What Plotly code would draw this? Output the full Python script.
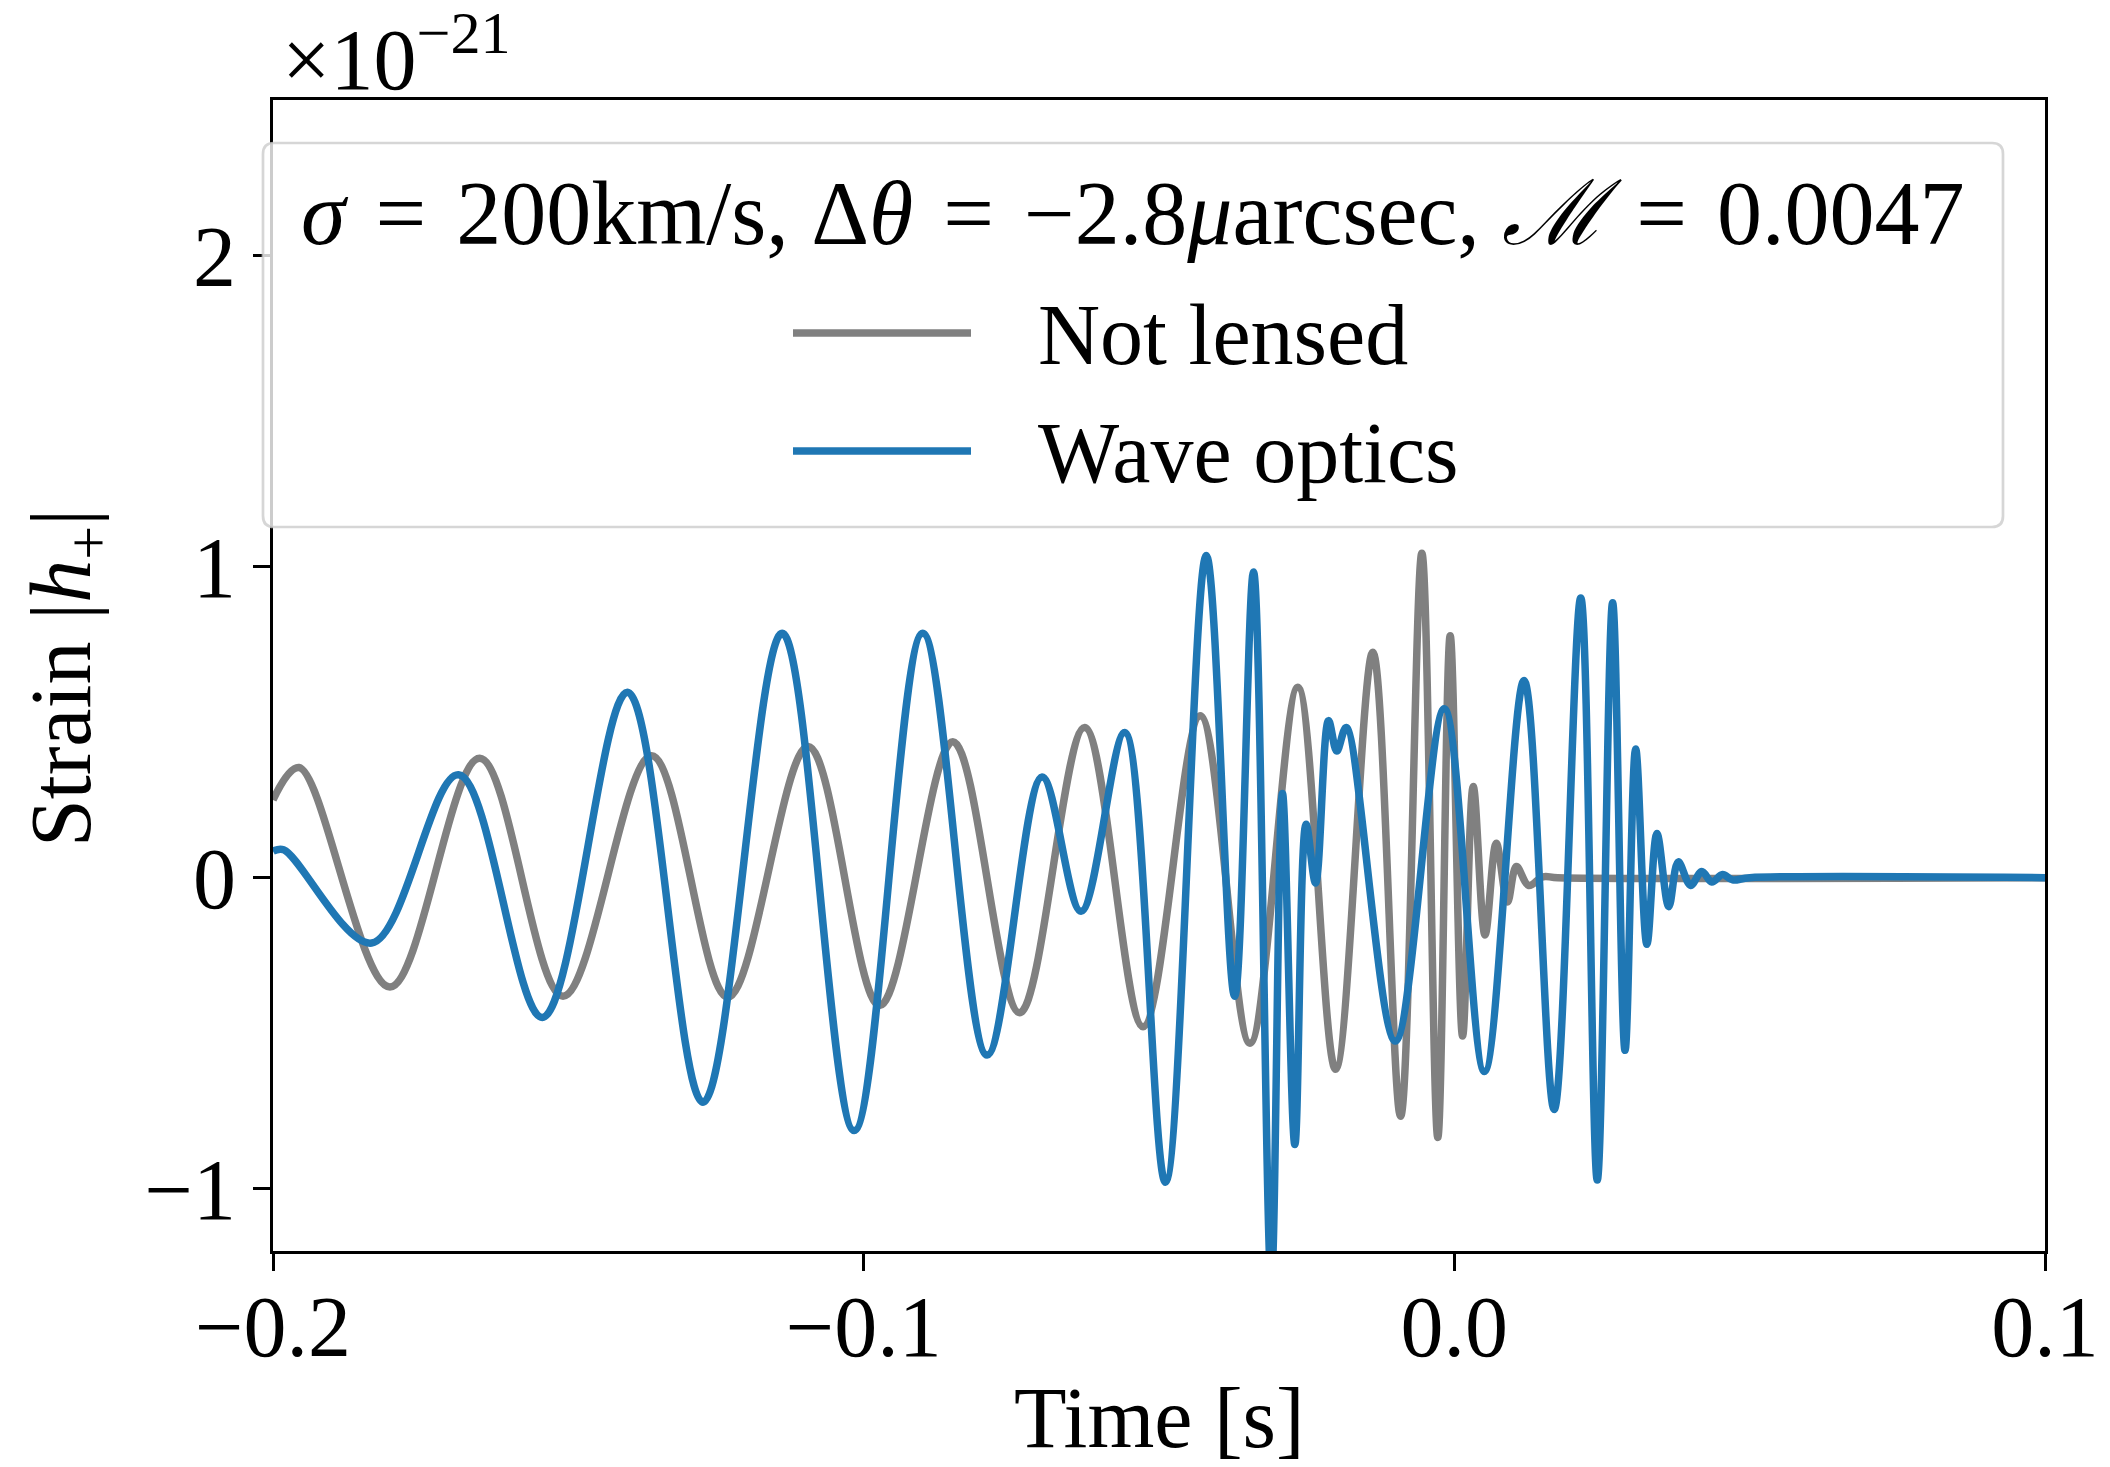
import plotly.graph_objects as go

# Strain waveforms (units of 1e-21) sampled at their turning points
t_unlensed = [-0.2000, -0.1956, -0.1802, -0.1650, -0.1509, -0.1359, -0.1230, -0.1094,
              -0.0973, -0.0849, -0.0736, -0.0626, -0.0527, -0.0430, -0.0346, -0.0265,
              -0.0201, -0.0138, -0.0091, -0.0055, -0.0028, -0.0007, 0.0014, 0.0032,
              0.0052, 0.0071, 0.0090, 0.0105, 0.0126, 0.0150, 0.0175, 0.1000]
h_unlensed = [0.25, 0.354, -0.351, 0.384, -0.381, 0.392, -0.384, 0.422,
              -0.411, 0.437, -0.434, 0.483, -0.479, 0.521, -0.532, 0.612,
              -0.616, 0.725, -0.767, 1.043, -0.835, 0.778, -0.509, 0.293,
              -0.184, 0.111, -0.078, 0.036, -0.025, 0.003, 0.0, 0.0]

t_wave = [-0.2000, -0.1982, -0.1833, -0.1686, -0.1544, -0.1400, -0.1272, -0.1138,
          -0.1016, -0.0900, -0.0791, -0.0698, -0.0632, -0.0558, -0.0489, -0.0420,
          -0.0372, -0.0340, -0.0310, -0.0291, -0.0270, -0.0251, -0.0235, -0.0213,
          -0.0199, -0.0183, -0.0100, -0.0017, 0.0051, 0.0118, 0.0169, 0.0214,
          0.0242, 0.0268, 0.0289, 0.0307, 0.0326, 0.0343, 0.0363, 0.0379,
          0.0400, 0.0419, 0.0436, 0.0454, 0.0471, 0.0500, 0.1000]
h_wave = [0.085, 0.09, -0.21, 0.331, -0.449, 0.596, -0.722, 0.786,
          -0.813, 0.786, -0.570, 0.324, -0.108, 0.467, -0.979, 1.036,
          -0.381, 0.983, -1.30, 0.271, -0.858, 0.172, -0.017, 0.505,
          0.407, 0.483, -0.525, 0.543, -0.623, 0.634, -0.745, 0.899,
          -0.972, 0.884, -0.555, 0.414, -0.214, 0.142, -0.093, 0.051,
          -0.025, 0.020, -0.014, 0.010, -0.007, 0.0, 0.0]

x_ticks = [-0.2, -0.1, 0.0, 0.1]
y_ticks = [-1, 0, 1, 2]
series_names = ["Not lensed", "Wave optics"]
series_colors = ["#808080", "#1f77b4"]
legend_title = ("<i>σ</i>\u2004=\u2004200km/s, Δ<i>θ</i>\u2004=\u2004−2.8<i>μ</i>arcsec, "
                "<i>ℳ</i>\u2004=\u20040.0047")

W, H = 2110, 1467
L, R, T, B = 273, 2045, 100, 1251
FONT = "Liberation Serif"
FS = 86
LW = 7.5


def px_x(p):
    return (p - L) / (R - L)


def px_y(p):
    return (B - p) / (B - T)


fig = go.Figure()
fig.add_trace(go.Scatter(x=t_unlensed, y=h_unlensed, mode="lines", name=series_names[0],
                         line=dict(color=series_colors[0], width=LW, shape="spline", smoothing=1.0),
                         showlegend=False))
fig.add_trace(go.Scatter(x=t_wave, y=h_wave, mode="lines", name=series_names[1],
                         line=dict(color=series_colors[1], width=LW, shape="spline", smoothing=1.0),
                         showlegend=False))

axis_common = dict(showline=True, linecolor="black", linewidth=2.7, mirror=True,
                   ticks="outside", ticklen=17, tickwidth=2.7, tickcolor="black",
                   showgrid=False, zeroline=False,
                   tickfont=dict(family=FONT, size=FS, color="black"))
fig.update_xaxes(range=[-0.2, 0.1], tickvals=x_ticks, tickformat=".1f",
                 ticklabelstandoff=-18, **axis_common)
fig.update_yaxes(range=[-1.2, 2.5], tickvals=y_ticks, tickformat="d", **axis_common)

# Legend frame: rounded box, semi-transparent white like a framed legend
x0, x1 = px_x(263), px_x(2003)
y0, y1 = px_y(527), px_y(143)
rx = 11 / (R - L)
ry = 11 / (B - T)
path = (f"M {x0 + rx},{y1} L {x1 - rx},{y1} Q {x1},{y1} {x1},{y1 - ry} "
        f"L {x1},{y0 + ry} Q {x1},{y0} {x1 - rx},{y0} L {x0 + rx},{y0} "
        f"Q {x0},{y0} {x0},{y0 + ry} L {x0},{y1 - ry} Q {x0},{y1} {x0 + rx},{y1} Z")
fig.add_shape(type="path", path=path, xref="paper", yref="paper", layer="above",
              fillcolor="rgba(255,255,255,0.8)", line=dict(color="rgba(204,204,204,0.8)", width=2.7))

# Legend entries
for name, color, cy in zip(series_names, series_colors, [333, 451]):
    fig.add_shape(type="line", xref="paper", yref="paper", layer="above",
                  x0=px_x(793), x1=px_x(971), y0=px_y(cy), y1=px_y(cy),
                  line=dict(color=color, width=LW))
    fig.add_annotation(text=name, xref="paper", yref="paper", x=px_x(1036), y=px_y(cy + 2),
                       xanchor="left", yanchor="middle", showarrow=False,
                       font=dict(family=FONT, size=FS, color="black"))

fig.add_annotation(text=legend_title, xref="paper", yref="paper", x=px_x(1133), y=px_y(214),
                   xanchor="center", yanchor="middle", showarrow=False,
                   font=dict(family=FONT, size=90, color="black"))

# Axis titles and offset label
fig.add_annotation(text="Time [s]", xref="paper", yref="paper", x=px_x(1159), y=px_y(1418),
                   xanchor="center", yanchor="middle", showarrow=False,
                   font=dict(family=FONT, size=FS, color="black"))
fig.add_annotation(text="Strain |<i>h</i><sub>+</sub>|", xref="paper", yref="paper",
                   x=px_x(67), y=px_y(678), textangle=-90,
                   xanchor="center", yanchor="middle", showarrow=False,
                   font=dict(family=FONT, size=FS, color="black"))
fig.add_annotation(text="×10<sup>−21</sup>", xref="paper", yref="paper",
                   x=px_x(280), y=px_y(110), xanchor="left", yanchor="bottom", showarrow=False,
                   font=dict(family=FONT, size=FS, color="black"))

fig.update_layout(width=W, height=H, margin=dict(l=L, r=W - R, t=T, b=H - B, pad=0),
                  paper_bgcolor="white", plot_bgcolor="white", showlegend=False)

fig.write_html("out.html")
